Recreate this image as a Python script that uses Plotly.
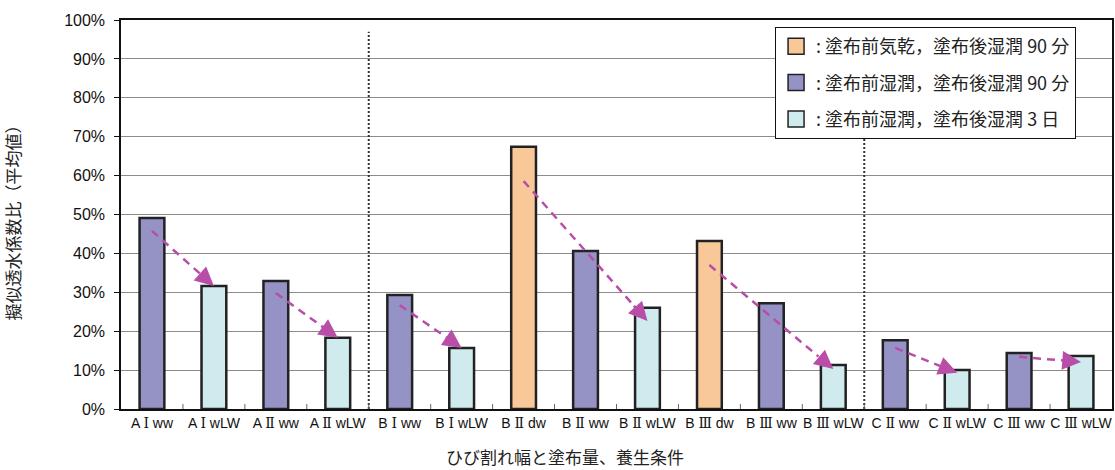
import plotly.graph_objects as go

categories = ["AⅠww", "AⅠwLW", "AⅡww", "AⅡwLW", "BⅠww", "BⅠwLW", "BⅡdw", "BⅡww",
              "BⅡwLW", "BⅢdw", "BⅢww", "BⅢwLW", "CⅡww", "CⅡwLW", "CⅢww", "CⅢwLW"]
values = [0.491, 0.316, 0.329, 0.183, 0.293, 0.157, 0.674, 0.406,
          0.260, 0.432, 0.272, 0.113, 0.177, 0.100, 0.144, 0.136]
# condition group of each category: 0 = dry before / wet 90 min, 1 = wet / wet 90 min, 2 = wet / wet 3 days
groups = [1, 2, 1, 2, 1, 2, 0, 1, 2, 0, 1, 2, 1, 2, 1, 2]
group_names = [": 塗布前気乾，塗布後湿潤 90 分",
               ": 塗布前湿潤，塗布後湿潤 90 分",
               ": 塗布前湿潤，塗布後湿潤 3 日"]
group_colors = ["#F9C899", "#9592C6", "#CFEBEE"]

# arrows: (from index, to index, start level, end level)
arrow_from = [0, 2, 4, 6, 9, 12, 14]
arrow_to = [1, 3, 5, 8, 11, 13, 15]
arrow_start = [0.458, 0.298, 0.267, 0.586, 0.370, 0.157, 0.134]
arrow_end = [0.316, 0.183, 0.157, 0.226, 0.103, 0.093, 0.121]

separators = [3.5, 11.5]


def fmt_label(s):
    out = ""
    for ch in s:
        if ch in "ⅠⅡⅢ":
            out += " <span style='font-family:DejaVu Serif'>" + ch + "</span> "
        else:
            out += ch
    return out


fig = go.Figure()
for g, (name, col) in enumerate(zip(group_names, group_colors)):
    fig.add_trace(go.Bar(
        x=list(range(len(categories))),
        y=[v if gg == g else None for v, gg in zip(values, groups)],
        name=name, legendgroup=str(g), showlegend=False,
        marker=dict(color=col, line=dict(color="#222222", width=2.5)),
        width=0.4,
    ))
for g, (name, col) in enumerate(zip(group_names, group_colors)):
    fig.add_trace(go.Scatter(
        x=[None], y=[None], mode="markers", name=name, legendgroup=str(g),
        marker=dict(symbol="square", size=16, color=col, line=dict(color="#222222", width=1.5)),
    ))

shapes = []
annotations = []
for s in separators:
    shapes.append(dict(type="line", xref="x", yref="y", x0=s, x1=s, y0=0, y1=0.97,
                       line=dict(color="#333333", width=2, dash="2px,2px"), layer="above"))

for i0, i1, y0, y1 in zip(arrow_from, arrow_to, arrow_start, arrow_end):
    x0, x1 = i0, i1
    tx = x1 - 0.12 * (x1 - x0)
    ty = y1 - 0.12 * (y1 - y0)
    shapes.append(dict(type="line", xref="x", yref="y", x0=x0, y0=y0, x1=tx, y1=ty,
                       line=dict(color="#B84EA8", width=2.5, dash="8px,6px"), layer="above"))
    annotations.append(dict(x=x1, y=y1, ax=tx, ay=ty, xref="x", yref="y", axref="x", ayref="y",
                            showarrow=True, arrowhead=2, arrowsize=1.5, arrowwidth=2.5,
                            arrowcolor="#B84EA8", standoff=0, text=""))

annotations.append(dict(text="ひび割れ幅と塗布量、養生条件", x=0.448, y=-0.123, xref="paper", yref="paper",
                        showarrow=False, xanchor="center", yanchor="middle",
                        font=dict(family="Noto Sans CJK JP", size=17, color="#222")))
annotations.append(dict(text="擬似透水係数比（平均値）", x=-0.11, y=0.49, xref="paper", yref="paper",
                        showarrow=False, textangle=-90, xanchor="center", yanchor="middle",
                        font=dict(family="Noto Sans CJK JP", size=17, color="#222")))

# boundary tick marks
for k in range(1, len(categories)):
    shapes.append(dict(type="line", xref="x", yref="paper", x0=k - 0.5, x1=k - 0.5, y0=0, y1=0.013,
                       line=dict(color="#666", width=1)))

fig.update_layout(
    width=1115, height=470,
    margin=dict(l=121, r=3, t=20, b=61, autoexpand=False),
    paper_bgcolor="white", plot_bgcolor="white",
    barmode="overlay",
    showlegend=True,
    legend=dict(x=0.66, y=0.982, xanchor="left", yanchor="top",
                bordercolor="#111", borderwidth=1, bgcolor="white",
                traceorder="grouped", tracegroupgap=10, itemwidth=30,
                font=dict(family="Noto Sans CJK JP", size=18, color="#222")),
    shapes=shapes, annotations=annotations,
    font=dict(family="Liberation Sans, Arial", size=15, color="#111"),
)
fig.update_xaxes(
    type="linear", range=[-0.5, len(categories) - 0.5],
    tickmode="array", tickvals=list(range(len(categories))), ticktext=[fmt_label(c) for c in categories],
    showline=True, linecolor="#111", linewidth=1.5, mirror=True,
    ticks="", showgrid=False, zeroline=False, automargin=False,
    tickfont=dict(family="Liberation Sans, Arial", size=14, color="#111"),
)
fig.update_yaxes(
    range=[0, 1], tickformat=".0%", dtick=0.1,
    showline=True, linecolor="#111", linewidth=1.5, mirror=True,
    ticks="outside", ticklen=5, tickcolor="#111",
    showgrid=True, gridcolor="#8c8c8c", gridwidth=1, zeroline=False, automargin=False,
    tickfont=dict(family="Liberation Sans, Arial", size=16, color="#111"),
    ticklabelstandoff=6,
)

fig.write_html("out.html", config={"displayModeBar": False},
               post_script="document.body.style.margin='0';document.body.style.padding='0';")
